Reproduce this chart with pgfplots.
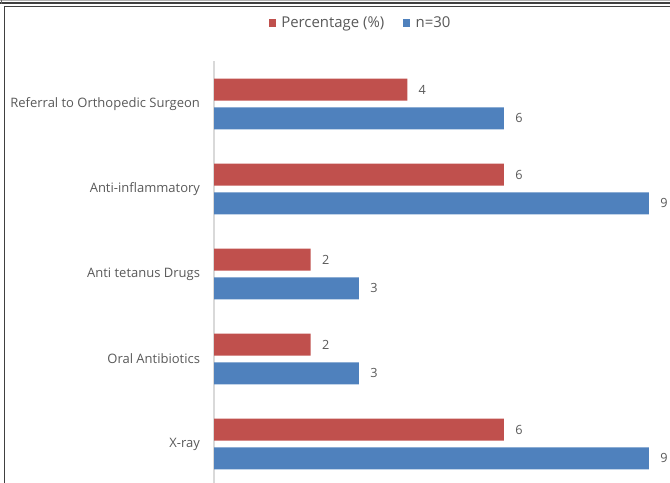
\documentclass[border=0pt]{standalone}
\usepackage{pgfplots}
\pgfplotsset{compat=1.18}
\usepackage{fontspec}
\setmainfont{Open Sans}
\definecolor{cred}{HTML}{C0504D}
\definecolor{cblue}{HTML}{4F81BD}
\definecolor{txt}{HTML}{595959}
\definecolor{axl}{HTML}{D9D9D9}
\begin{document}
\begin{tikzpicture}
\useasboundingbox (0pt,0pt) rectangle (502.5pt,361.5pt);
\clip (0pt,0pt) rectangle (502.5pt,361.5pt);
% frame
\draw[gray!60,line width=0.75pt] (0pt,361.1pt) -- (502.5pt,361.1pt);
\draw[black!75,line width=1.2pt] (0pt,359.25pt) -- (502.5pt,359.25pt);
\draw[black!75,line width=1.2pt] (3.4pt,-2pt) -- (3.4pt,356.6pt) -- (504pt,356.6pt);
\draw[black!60,line width=0.75pt] (0.75pt,362pt) -- (0.75pt,358.5pt);
\begin{axis}[
  at={(160.5pt,-3.375pt)}, anchor=south west,
  scale only axis, width=342pt, height=318.75pt,
  xbar, xmin=0, xmax=9.435, ymin=-0.5, ymax=4.5,
  bar width=16.5pt,
  axis x line=none,
  axis y line*=left,
  y axis line style={draw=axl, line width=0.9pt},
  ytick={0,1,2,3,4},
  yticklabels={X-ray,Oral Antibiotics,Anti tetanus Drugs,Anti-inflammatory,Referral to Orthopedic Surgeon},
  major tick length=0pt,
  yticklabel style={font=\fontsize{9.75}{11}\selectfont, text=txt, xshift=-7pt},
  /pgf/number format/assume math mode=true,
  nodes near coords,
  nodes near coords style={font=\fontsize{9.5}{11}\selectfont, text=txt, xshift=5pt},
  legend style={at={(0.322,1.0906)}, anchor=center, draw=none, fill=none,
    legend columns=2, font=\fontsize{11.2}{12}\selectfont, text=txt,
    /tikz/every odd column/.append style={column sep=2pt},
    /tikz/every even column/.append style={column sep=12pt}},
  legend image code/.code={\fill[#1] (0pt,-3pt) rectangle (5.5pt,3pt);},
  clip=false,
]
\addplot[fill=cred, draw=none, bar shift=10.75pt] coordinates {(6,0) (2,1) (2,2) (6,3) (4,4)};
\addplot[fill=cblue, draw=none, bar shift=-10.75pt] coordinates {(9,0) (3,1) (3,2) (9,3) (6,4)};
\legend{Percentage (\%), n=30}
\end{axis}
\end{tikzpicture}
\end{document}
